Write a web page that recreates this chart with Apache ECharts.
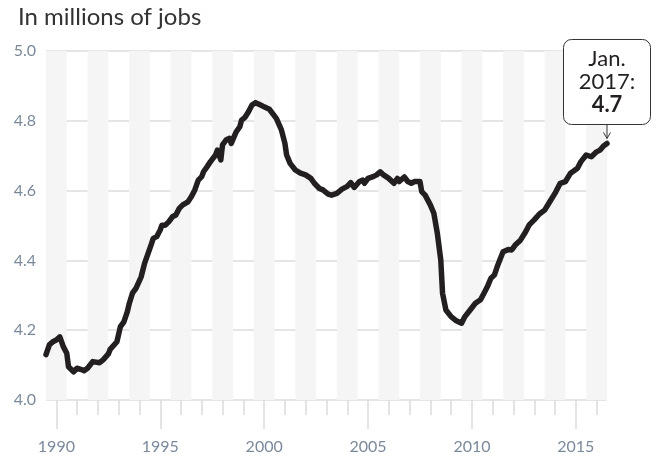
<!DOCTYPE html>
<html>
<head>
<meta charset="utf-8">
<script src="https://cdn.jsdelivr.net/npm/echarts@6/dist/echarts.min.js"></script>
<style>
    html, body { margin: 0; padding: 0; background: #fff; }
    #main { width: 657px; height: 462px; }
</style>
</head>
<body>
<div id="main"></div>
<script>
// year bands on the x axis, one per calendar year
var years = ['1990','1991','1992','1993','1994','1995','1996','1997','1998','1999',
    '2000','2001','2002','2003','2004','2005','2006','2007','2008','2009',
    '2010','2011','2012','2013','2014','2015','2016'];
var yTicks = [4.0, 4.2, 4.4, 4.6, 4.8, 5.0];

// jobs in millions
var months = [
    '1990-01','1990-03','1990-05','1990-07','1990-09','1990-11',
    '1991-01','1991-02','1991-05','1991-07','1991-09','1991-11',
    '1992-01','1992-04','1992-05','1992-08','1992-10',
    '1993-01','1993-02','1993-03','1993-06','1993-08','1993-10','1993-12',
    '1994-01','1994-03','1994-05','1994-08','1994-10','1994-12',
    '1995-02','1995-03','1995-05','1995-07','1995-08','1995-10','1995-12',
    '1996-02','1996-04','1996-06','1996-08','1996-11',
    '1997-01','1997-03','1997-05','1997-07','1997-08','1997-10','1997-12',
    '1998-03','1998-04','1998-05','1998-06','1998-07','1998-09','1998-11','1998-12',
    '1999-02','1999-03','1999-05','1999-06','1999-08','1999-10','1999-12',
    '2000-02','2000-05','2000-07','2000-10',
    '2001-02','2001-05','2001-07','2001-08','2001-10',
    '2002-01','2002-04','2002-07','2002-10','2002-12',
    '2003-03','2003-05','2003-08','2003-10',
    '2004-01','2004-04','2004-07','2004-09','2004-11',
    '2005-02','2005-04','2005-05','2005-07','2005-10','2005-12',
    '2006-02','2006-04','2006-07','2006-10','2006-12',
    '2007-01','2007-04','2007-06','2007-08','2007-10',
    '2008-01','2008-02','2008-04','2008-07','2008-09','2008-11',
    '2009-01','2009-02','2009-04','2009-07','2009-10',
    '2010-01','2010-03','2010-06','2010-09','2010-12',
    '2011-03','2011-04','2011-06','2011-08','2011-10',
    '2012-01','2012-04','2012-06','2012-08','2012-11',
    '2013-02','2013-04','2013-07','2013-10',
    '2014-01','2014-04','2014-07','2014-10',
    '2015-01','2015-04','2015-08','2015-10',
    '2016-01','2016-04','2016-07','2016-09','2016-11','2017-01'
];
var jobs = [
    4.130, 4.158, 4.167, 4.172, 4.181, 4.153,
    4.134, 4.095, 4.081, 4.091, 4.088, 4.084,
    4.091, 4.110, 4.110, 4.107, 4.115,
    4.132, 4.145, 4.143, 4.167, 4.210, 4.224, 4.253,
    4.275, 4.306, 4.320, 4.353, 4.392, 4.420,
    4.449, 4.463, 4.468, 4.487, 4.501, 4.501, 4.511,
    4.525, 4.530, 4.549, 4.559, 4.568,
    4.583, 4.602, 4.630, 4.640, 4.654, 4.668, 4.683,
    4.702, 4.716, 4.721, 4.688, 4.731, 4.745, 4.750, 4.735,
    4.759, 4.769, 4.783, 4.802, 4.810, 4.826, 4.845,
    4.852, 4.845, 4.840, 4.833,
    4.807, 4.774, 4.736, 4.702, 4.678,
    4.659, 4.650, 4.645, 4.635, 4.621,
    4.606, 4.602, 4.590, 4.587,
    4.592, 4.604, 4.612, 4.623, 4.609,
    4.626, 4.630, 4.621, 4.635, 4.640, 4.645,
    4.654, 4.645, 4.635, 4.621, 4.635,
    4.626, 4.639, 4.626, 4.621, 4.626,
    4.626, 4.597, 4.587, 4.559, 4.535, 4.478,
    4.401, 4.306, 4.258, 4.239, 4.227,
    4.220, 4.239, 4.258, 4.277, 4.287,
    4.315, 4.325, 4.349, 4.358, 4.387,
    4.425, 4.431, 4.430, 4.444, 4.458,
    4.482, 4.501, 4.516, 4.533,
    4.544, 4.568, 4.592, 4.621,
    4.626, 4.650, 4.664, 4.683,
    4.702, 4.697, 4.711, 4.716, 4.728, 4.735
];

var monthNames = ['Jan.','Feb.','March','April','May','June','July','Aug.','Sept.','Oct.','Nov.','Dec.'];
var FONT = 'Lato';
var LABEL = '#7b8a9b';
var GRID = '#dcdcdc';

var chart = echarts.init(document.getElementById('main'));

var option = {
    animation: false,
    backgroundColor: '#fff',
    title: {
        text: 'In millions of jobs',
        left: 13,
        top: 0,
        textStyle: {
            fontFamily: FONT,
            fontSize: 24,
            fontWeight: 'normal',
            color: '#333'
        }
    },
    grid: {
        left: 46,
        right: 50,
        top: 51,
        bottom: 62
    },
    xAxis: [
        {
            // year bands + short ticks
            type: 'category',
            data: years,
            boundaryGap: true,
            axisLine: { show: false },
            axisTick: {
                show: true,
                alignWithLabel: true,
                interval: 0,
                length: 15,
                lineStyle: { color: GRID, width: 1.5 }
            },
            axisLabel: { show: false },
            splitArea: {
                show: true,
                interval: 0,
                areaStyle: { color: ['#f5f5f5', 'rgba(255,255,255,0)'] }
            }
        },
        {
            // line position axis
            type: 'time',
            min: '1990-01-01',
            max: '2017-01-01',
            show: false
        },
        {
            // long ticks + labels every five years
            type: 'category',
            data: years,
            boundaryGap: true,
            position: 'bottom',
            axisLine: { show: false },
            axisTick: {
                show: true,
                alignWithLabel: true,
                interval: 4,
                length: 29,
                lineStyle: { color: GRID, width: 1.5 }
            },
            axisLabel: {
                interval: 4,
                margin: 39,
                fontFamily: FONT,
                fontSize: 16,
                color: LABEL
            },
            splitLine: { show: false }
        }
    ],
    yAxis: {
        type: 'value',
        min: yTicks[0],
        max: yTicks[yTicks.length - 1],
        interval: 0.2,
        axisLine: { show: false },
        axisTick: { show: false },
        axisLabel: {
            margin: 10,
            fontFamily: FONT,
            fontSize: 16,
            color: LABEL,
            formatter: function (v) { return v.toFixed(1); }
        },
        splitLine: {
            lineStyle: { color: GRID, width: 1.5 }
        }
    },
    series: [{
        type: 'line',
        xAxisIndex: 1,
        yAxisIndex: 0,
        showSymbol: false,
        symbol: 'none',
        data: months.map(function (m, i) { return [m + '-01', jobs[i]]; }),
        lineStyle: {
            color: '#231f20',
            width: 5.5,
            cap: 'round',
            join: 'round'
        },
        z: 5
    }]
};

chart.setOption(option);

// callout box for the last value
var lastIdx = months.length - 1;
var lastDate = months[lastIdx];
var lastVal = jobs[lastIdx];
var pt = chart.convertToPixel({ xAxisIndex: 1, yAxisIndex: 0 }, [lastDate + '-01', lastVal]);
var boxW = 87, boxH = 85;
var boxBottom = pt[1] - 19;
var tipY = pt[1] - 5;
var parts = lastDate.split('-');

chart.setOption({
    graphic: [
        {
            type: 'rect',
            shape: { x: pt[0] - boxW / 2, y: boxBottom - boxH, width: boxW, height: boxH, r: 8 },
            style: { fill: '#fff', stroke: '#333', lineWidth: 1 },
            z: 20
        },
        {
            type: 'text',
            x: pt[0],
            y: boxBottom - boxH / 2,
            style: {
                text: monthNames[+parts[1] - 1] + '\n' + parts[0] + ':\n{b|' + lastVal.toFixed(1) + '}',
                align: 'center',
                verticalAlign: 'middle',
                fontFamily: FONT,
                fontSize: 22,
                lineHeight: 23,
                fill: '#231f20',
                rich: {
                    b: { fontFamily: FONT, fontSize: 22, fontWeight: 'bold', lineHeight: 23, fill: '#231f20' }
                }
            },
            z: 21
        },
        {
            type: 'line',
            shape: { x1: pt[0], y1: boxBottom, x2: pt[0], y2: tipY },
            style: { stroke: '#333', lineWidth: 1 },
            z: 21
        },
        {
            type: 'polyline',
            shape: { points: [[pt[0] - 3.5, tipY - 6], [pt[0], tipY], [pt[0] + 3.5, tipY - 6]] },
            style: { stroke: '#333', lineWidth: 1, fill: null },
            z: 21
        }
    ]
});
</script>
</body>
</html>
